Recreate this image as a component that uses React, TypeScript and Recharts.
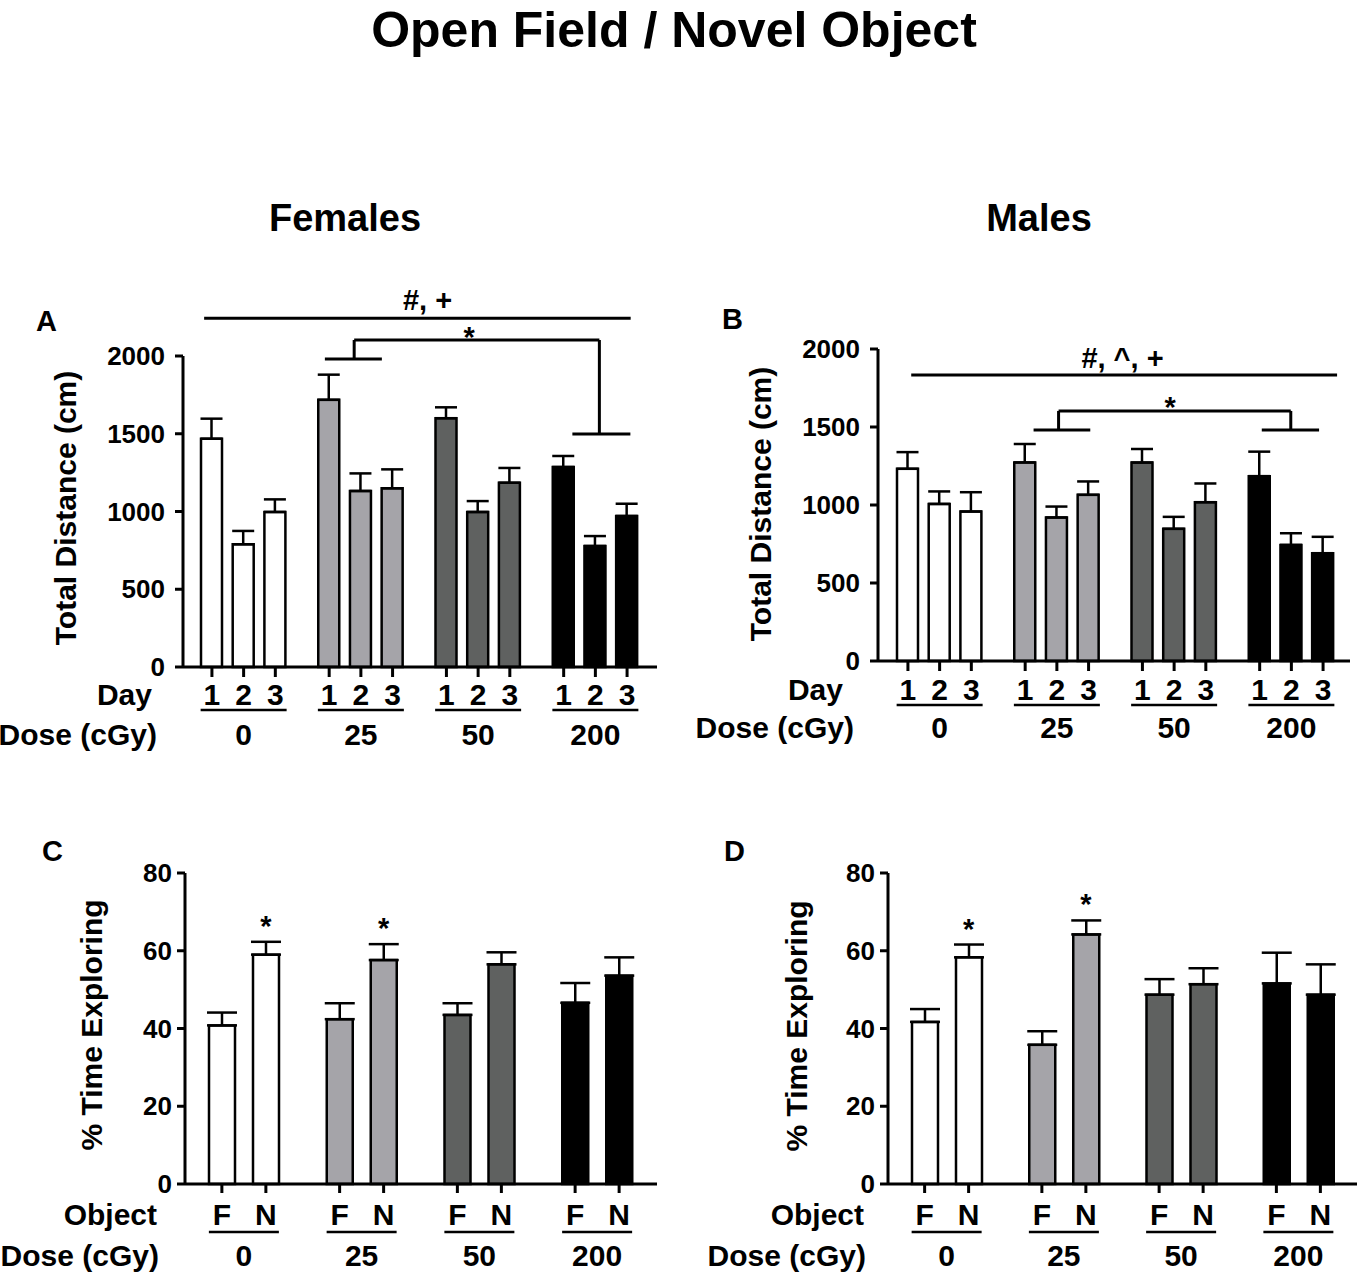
import React from "react";
import { BarChart, Bar, XAxis, YAxis, Cell, ErrorBar, ReferenceLine, ReferenceDot } from "recharts";

const FONT = "'Liberation Sans', Arial, Helvetica, sans-serif";

const doses = ["0", "25", "50", "200"];
const doseFills = ["#ffffff", "#a5a4a9", "#5f6160", "#000000"];
const dayLabels = ["1", "2", "3"];
const objectLabels = ["F", "N"];

const distanceTicks = [0, 500, 1000, 1500, 2000];
const exploreTicks = [0, 20, 40, 60, 80];

// open field, total distance (cm): mean and SEM per dose
const femaleDay1 = [1468, 1718, 1600, 1286];
const femaleDay1Sem = [129, 162, 70, 71];
const femaleDay2 = [789, 1132, 997, 778];
const femaleDay2Sem = [86, 113, 70, 64];
const femaleDay3 = [997, 1149, 1185, 971];
const femaleDay3Sem = [81, 122, 95, 79];

const maleDay1 = [1232, 1273, 1272, 1185];
const maleDay1Sem = [107, 118, 87, 157];
const maleDay2 = [1007, 920, 847, 744];
const maleDay2Sem = [80, 70, 77, 75];
const maleDay3 = [958, 1065, 1018, 691];
const maleDay3Sem = [124, 86, 120, 105];

// novel object, % time exploring familiar / novel object
const femaleFamiliar = [40.8, 42.4, 43.5, 46.6];
const femaleFamiliarSem = [3.3, 4.1, 3.0, 5.1];
const femaleNovel = [59.0, 57.6, 56.5, 53.6];
const femaleNovelSem = [3.3, 4.1, 3.1, 4.7];
const femaleNovelSig = [true, true, false, false];

const maleFamiliar = [41.7, 35.8, 48.7, 51.6];
const maleFamiliarSem = [3.3, 3.5, 4.0, 7.9];
const maleNovel = [58.3, 64.2, 51.4, 48.7];
const maleNovelSem = [3.3, 3.6, 4.1, 7.8];
const maleNovelSig = [true, true, false, false];

// bracket heights (cm)
const femaleBracketY = [2242, 2103, 1981, 1498];
const maleBracketY = [1833, 1603, 1481, 1481];

const femaleDistance = doses.map((dose, i) => ({
  dose,
  d1: femaleDay1[i], s1: femaleDay1Sem[i],
  d2: femaleDay2[i], s2: femaleDay2Sem[i],
  d3: femaleDay3[i], s3: femaleDay3Sem[i],
}));
const maleDistance = doses.map((dose, i) => ({
  dose,
  d1: maleDay1[i], s1: maleDay1Sem[i],
  d2: maleDay2[i], s2: maleDay2Sem[i],
  d3: maleDay3[i], s3: maleDay3Sem[i],
}));
const femaleExplore = doses.map((dose, i) => ({
  dose, f: femaleFamiliar[i], sf: femaleFamiliarSem[i], n: femaleNovel[i], sn: femaleNovelSem[i],
}));
const maleExplore = doses.map((dose, i) => ({
  dose, f: maleFamiliar[i], sf: maleFamiliarSem[i], n: maleNovel[i], sn: maleNovelSem[i],
}));

const daySeries = [["d1", "s1"], ["d2", "s2"], ["d3", "s3"]];
const objSeries = [["f", "sf"], ["n", "sn"]];

const txt = { fill: "#000", fontFamily: FONT, fontWeight: "bold" as const };

const groupTick = (subs: string[], step: number, c: { tick: number; sub: number; line: number; half: number; dose: number }) =>
  (p: any) => {
    const { x, y, payload } = p;
    const n = subs.length;
    return (
      <g>
        {subs.map((s, i) => {
          const cx = x + (i - (n - 1) / 2) * step;
          return (
            <g key={s}>
              <line x1={cx} x2={cx} y1={y} y2={y + c.tick} stroke="#000" strokeWidth={3} />
              <text x={cx} y={y + c.sub} textAnchor="middle" fontSize={30} {...txt}>{s}</text>
            </g>
          );
        })}
        <line x1={x - c.half} x2={x + c.half} y1={y + c.line} y2={y + c.line} stroke="#000" strokeWidth={2.5} />
        <text x={x} y={y + c.dose} textAnchor="middle" fontSize={30} {...txt}>{payload.value}</text>
      </g>
    );
  };

type Seg = { from: string; to: string; y1: number; y2: number; dx1: number; dx2: number; label?: string; ldx?: number; ldy?: number };

const segShape = (s: Seg) => (p: any) => (
  <g>
    <line x1={p.x1 + s.dx1} y1={p.y1} x2={p.x2 + s.dx2} y2={p.y2} stroke="#000" strokeWidth={3} />
    {s.label ? (
      <text x={(p.x1 + p.x2) / 2 + (s.ldx || 0)} y={p.y1 + (s.ldy || 0)} textAnchor="middle" fontSize={29} {...txt}>
        {s.label}
      </text>
    ) : null}
  </g>
);

const brackets = (segs: Seg[]) =>
  segs.map((s, i) => (
    <ReferenceLine
      key={`br-${i}`}
      segment={[{ x: s.from, y: s.y1 }, { x: s.to, y: s.y2 }]}
      ifOverflow="visible"
      shape={segShape(s)}
    />
  ));

const femaleSegs: Seg[] = [
  { from: "0", to: "200", y1: femaleBracketY[0], y2: femaleBracketY[0], dx1: -39.5, dx2: 35.3, label: "#, +", ldx: 8, ldy: -8 },
  { from: "25", to: "200", y1: femaleBracketY[1], y2: femaleBracketY[1], dx1: -6.7, dx2: 4, label: "*", ldx: -9, ldy: 7 },
  { from: "25", to: "25", y1: femaleBracketY[1], y2: femaleBracketY[2], dx1: -6.7, dx2: -6.7 },
  { from: "25", to: "25", y1: femaleBracketY[2], y2: femaleBracketY[2], dx1: -36, dx2: 21 },
  { from: "200", to: "200", y1: femaleBracketY[1], y2: femaleBracketY[3], dx1: 4, dx2: 4 },
  { from: "200", to: "200", y1: femaleBracketY[3], y2: femaleBracketY[3], dx1: -23, dx2: 35 },
];

const maleSegs: Seg[] = [
  { from: "0", to: "200", y1: maleBracketY[0], y2: maleBracketY[0], dx1: -28.4, dx2: 45.7, label: "#, ^, +", ldx: 7, ldy: -7 },
  { from: "25", to: "200", y1: maleBracketY[1], y2: maleBracketY[1], dx1: 1.7, dx2: -0.6, label: "*", ldx: -4, ldy: 6 },
  { from: "25", to: "25", y1: maleBracketY[1], y2: maleBracketY[2], dx1: 1.7, dx2: 1.7 },
  { from: "25", to: "25", y1: maleBracketY[2], y2: maleBracketY[2], dx1: -23.3, dx2: 33.4 },
  { from: "200", to: "200", y1: maleBracketY[1], y2: maleBracketY[3], dx1: -0.6, dx2: -0.6 },
  { from: "200", to: "200", y1: maleBracketY[3], y2: maleBracketY[3], dx1: -29.6, dx2: 27.7 },
];

const stars = (data: any[], sig: boolean[], dx: number) =>
  data.map((d, i) =>
    sig[i] ? (
      <ReferenceDot
        key={`star-${i}`}
        x={d.dose}
        y={d.n + d.sn}
        r={0}
        shape={(p: any) => (
          <text x={p.cx + dx} y={p.cy - 6} textAnchor="middle" fontSize={29} {...txt}>*</text>
        )}
      />
    ) : null
  );

type PanelProps = {
  left: number; top: number; width: number; height: number;
  margin: { top: number; right: number; bottom: number; left: number };
  data: any[];
  series: string[][];
  max: number; ticks: number[];
  tickMargin: number;
  barSize: number; barGap: number; cap: number;
  pad: { left: number; right: number };
  xHeight: number;
  tick: (p: any) => React.ReactElement;
  extra?: React.ReactNode;
};

const Panel = (p: PanelProps) => (
  <div style={{ position: "absolute", left: p.left, top: p.top }}>
    <BarChart width={p.width} height={p.height} data={p.data} margin={p.margin} barSize={p.barSize} barGap={p.barGap}>
      <XAxis
        dataKey="dose"
        interval={0}
        padding={p.pad}
        height={p.xHeight}
        tickLine={false}
        tickSize={0}
        tickMargin={0}
        axisLine={{ stroke: "#000", strokeWidth: 3 }}
        tick={p.tick}
      />
      <YAxis
        width={60}
        domain={[0, p.max]}
        ticks={p.ticks}
        interval={0}
        tickSize={8}
        tickMargin={p.tickMargin}
        axisLine={{ stroke: "#000", strokeWidth: 3 }}
        tickLine={{ stroke: "#000", strokeWidth: 3 }}
        tick={{ fill: "#000", fontSize: 26, fontWeight: "bold", fontFamily: FONT }}
      />
      {p.series.map(([key, sem]) => (
        <Bar key={key} dataKey={key} stroke="#000" strokeWidth={2.5} isAnimationActive={false}>
          {p.data.map((_, i) => (
            <Cell key={`c-${i}`} fill={doseFills[i]} />
          ))}
          <ErrorBar dataKey={(d: any) => [0, d[sem]]} width={p.cap} stroke="#000" strokeWidth={2.5} direction="y" />
        </Bar>
      ))}
      {p.extra}
    </BarChart>
  </div>
);

const T = ({ x, y, size, anchor = "start", rotate, children }: any) => (
  <text
    x={x}
    y={y}
    fontSize={size}
    textAnchor={anchor}
    transform={rotate ? `rotate(${rotate} ${x} ${y})` : undefined}
    {...txt}
  >
    {children}
  </text>
);

const distStep = 21 + 10.7;
const objStep = 26 + 18;

export default function App() {
  return (
    <div style={{ position: "absolute", left: 0, top: 0, width: 1358, height: 1275, background: "#fff" }}>
      <Panel
        left={0} top={270} width={670} height={500}
        margin={{ top: 86, right: 13, bottom: 3, left: 123 }}
        data={femaleDistance} series={daySeries}
        max={2000} ticks={distanceTicks} tickMargin={10}
        barSize={21} barGap={10.7} cap={11}
        pad={{ left: 2, right: 3 }} xHeight={100}
        tick={groupTick(dayLabels, distStep, { tick: 10, sub: 38, line: 43, half: 43, dose: 78 })}
        extra={brackets(femaleSegs)}
      />
      <Panel
        left={690} top={270} width={668} height={500}
        margin={{ top: 79, right: 8, bottom: 9, left: 128 }}
        data={maleDistance} series={daySeries}
        max={2000} ticks={distanceTicks} tickMargin={10}
        barSize={21} barGap={10.7} cap={11}
        pad={{ left: 3, right: 0 }} xHeight={100}
        tick={groupTick(dayLabels, distStep, { tick: 10, sub: 39, line: 44, half: 43, dose: 77 })}
        extra={brackets(maleSegs)}
      />
      <Panel
        left={0} top={830} width={670} height={445}
        margin={{ top: 43, right: 13, bottom: 3, left: 125 }}
        data={femaleExplore} series={objSeries}
        max={80} ticks={exploreTicks} tickMargin={5}
        barSize={26} barGap={18} cap={15}
        pad={{ left: 0, right: 1 }} xHeight={88}
        tick={groupTick(objectLabels, objStep, { tick: 9, sub: 41, line: 48, half: 35, dose: 82 })}
        extra={stars(femaleExplore, femaleNovelSig, objStep / 2)}
      />
      <Panel
        left={690} top={830} width={668} height={445}
        margin={{ top: 43, right: 1, bottom: 3, left: 138 }}
        data={maleExplore} series={objSeries}
        max={80} ticks={exploreTicks} tickMargin={5}
        barSize={26} barGap={18} cap={15}
        pad={{ left: 0, right: 0 }} xHeight={88}
        tick={groupTick(objectLabels, objStep, { tick: 9, sub: 41, line: 48, half: 35, dose: 82 })}
        extra={stars(maleExplore, maleNovelSig, objStep / 2)}
      />
      <svg
        width={1358}
        height={1275}
        style={{ position: "absolute", left: 0, top: 0, pointerEvents: "none" }}
      >
        <T x={674} y={47} size={50} anchor="middle">Open Field / Novel Object</T>
        <T x={345} y={231} size={38} anchor="middle">Females</T>
        <T x={1039} y={231} size={38} anchor="middle">Males</T>

        <T x={36} y={331} size={29}>A</T>
        <T x={722} y={329} size={29}>B</T>
        <T x={42} y={861} size={29}>C</T>
        <T x={724} y={861} size={29}>D</T>

        <T x={76} y={508} size={30} anchor="middle" rotate={-90}>Total Distance (cm)</T>
        <T x={771} y={504} size={30} anchor="middle" rotate={-90}>Total Distance (cm)</T>
        <T x={102} y={1025} size={30} anchor="middle" rotate={-90}>% Time Exploring</T>
        <T x={807} y={1026} size={30} anchor="middle" rotate={-90}>% Time Exploring</T>

        <T x={152} y={705} size={30} anchor="end">Day</T>
        <T x={157} y={745} size={30} anchor="end">Dose (cGy)</T>
        <T x={843} y={700} size={30} anchor="end">Day</T>
        <T x={854} y={738} size={30} anchor="end">Dose (cGy)</T>
        <T x={157} y={1225} size={30} anchor="end">Object</T>
        <T x={159} y={1266} size={30} anchor="end">Dose (cGy)</T>
        <T x={864} y={1225} size={30} anchor="end">Object</T>
        <T x={866} y={1266} size={30} anchor="end">Dose (cGy)</T>
      </svg>
    </div>
  );
}
